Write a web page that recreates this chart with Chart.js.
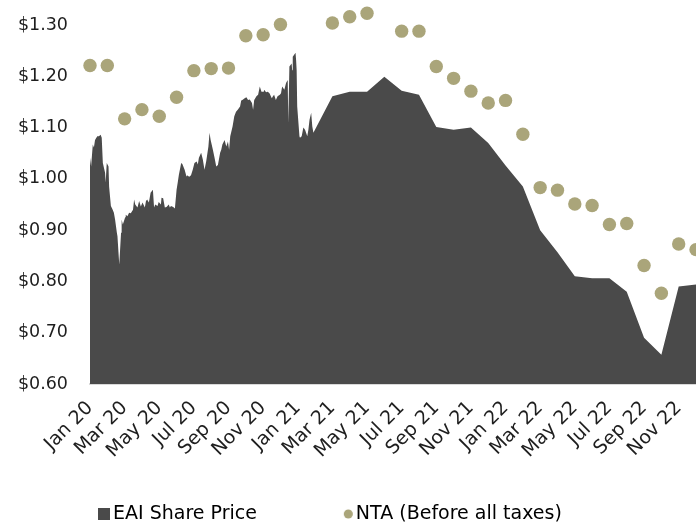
<!DOCTYPE html>
<html>
<head>
<meta charset="utf-8">
<script src="https://cdn.jsdelivr.net/npm/chart.js@4.4.1/dist/chart.umd.min.js"></script>
<style>
    html, body { margin: 0; padding: 0; background: #fff; }
    #wrap { width: 696px; height: 523px; }
</style>
</head>
<body>
<div id="wrap"><canvas id="chart"></canvas></div>
<script>
// x-axis tick labels, one every two months from Jan 2020
const tickLabels = ['Jan 20', 'Mar 20', 'May 20', 'Jul 20', 'Sep 20', 'Nov 20',
    'Jan 21', 'Mar 21', 'May 21', 'Jul 21', 'Sep 21', 'Nov 21',
    'Jan 22', 'Mar 22', 'May 22', 'Jul 22', 'Sep 22', 'Nov 22'];

// y-axis ticks
const yTicks = [0.6, 0.7, 0.8, 0.9, 1.0, 1.1, 1.2, 1.3];

// EAI share price (daily through Jan 2021, monthly afterwards)
const priceDates = [
    '2020-01-01', '2020-01-03', '2020-01-06', '2020-01-08', '2020-01-10', '2020-01-14', '2020-01-17', '2020-01-20',
    '2020-01-22', '2020-01-24', '2020-01-28', '2020-01-29', '2020-01-31', '2020-02-03', '2020-02-04', '2020-02-07',
    '2020-02-10', '2020-02-12', '2020-02-14', '2020-02-17', '2020-02-18', '2020-02-21', '2020-02-24', '2020-02-25',
    '2020-02-27', '2020-03-02', '2020-03-03', '2020-03-06', '2020-03-09', '2020-03-12', '2020-03-16', '2020-03-18',
    '2020-03-20', '2020-03-24', '2020-03-27', '2020-03-30', '2020-04-02', '2020-04-06', '2020-04-08', '2020-04-10',
    '2020-04-13', '2020-04-16', '2020-04-20', '2020-04-22', '2020-04-24', '2020-04-28', '2020-04-30', '2020-05-04',
    '2020-05-05', '2020-05-08', '2020-05-11', '2020-05-14', '2020-05-18', '2020-05-20', '2020-05-22', '2020-05-26',
    '2020-05-29', '2020-06-01', '2020-06-03', '2020-06-05', '2020-06-09', '2020-06-11', '2020-06-15', '2020-06-18',
    '2020-06-19', '2020-06-23', '2020-06-26', '2020-06-29', '2020-07-02', '2020-07-06', '2020-07-08', '2020-07-10',
    '2020-07-14', '2020-07-17', '2020-07-20', '2020-07-23', '2020-07-27', '2020-07-29', '2020-07-31', '2020-08-04',
    '2020-08-07', '2020-08-10', '2020-08-13', '2020-08-17', '2020-08-19', '2020-08-21', '2020-08-25', '2020-08-28',
    '2020-08-31', '2020-09-02', '2020-09-04', '2020-09-08', '2020-09-11', '2020-09-14', '2020-09-17', '2020-09-21',
    '2020-09-23', '2020-09-25', '2020-09-29', '2020-10-02', '2020-10-05', '2020-10-08', '2020-10-12', '2020-10-14',
    '2020-10-16', '2020-10-20', '2020-10-23', '2020-10-26', '2020-10-29', '2020-11-02', '2020-11-03', '2020-11-06',
    '2020-11-09', '2020-11-12', '2020-11-16', '2020-11-18', '2020-11-20', '2020-11-23', '2020-11-26', '2020-11-30',
    '2020-12-02', '2020-12-04', '2020-12-08', '2020-12-11', '2020-12-14', '2020-12-15', '2020-12-17', '2020-12-21',
    '2020-12-22', '2020-12-23', '2020-12-28', '2020-12-29', '2020-12-30', '2020-12-31', '2021-01-04', '2021-01-05',
    '2021-01-08', '2021-01-11', '2021-01-14', '2021-01-18', '2021-01-20', '2021-01-22', '2021-01-25', '2021-01-27',
    '2021-01-29', '2021-03-01', '2021-04-01', '2021-05-01', '2021-06-01', '2021-07-01', '2021-08-01', '2021-09-01',
    '2021-10-01', '2021-11-01', '2021-12-01', '2022-01-01', '2022-02-01', '2022-03-01', '2022-04-01', '2022-05-01',
    '2022-06-01', '2022-07-01', '2022-08-01', '2022-09-01', '2022-10-01', '2022-11-01', '2022-12-01'
];
const priceValues = [
    1.041, 1.024, 1.067, 1.061, 1.076, 1.083, 1.083, 1.086,
    1.080, 1.031, 1.012, 0.993, 1.031, 1.024, 0.985, 0.947,
    0.940, 0.934, 0.921, 0.895, 0.888, 0.833, 0.895, 0.921,
    0.911, 0.925, 0.930, 0.927, 0.934, 0.933, 0.940, 0.960,
    0.950, 0.944, 0.957, 0.946, 0.954, 0.944, 0.957, 0.960,
    0.954, 0.973, 0.979, 0.944, 0.950, 0.947, 0.955, 0.950,
    0.963, 0.962, 0.944, 0.945, 0.950, 0.944, 0.947, 0.945,
    0.942, 0.979, 0.993, 1.008, 1.031, 1.029, 1.018, 1.005,
    1.007, 1.004, 1.007, 1.018, 1.031, 1.034, 1.028, 1.041,
    1.051, 1.038, 1.018, 1.034, 1.063, 1.090, 1.076, 1.057,
    1.041, 1.024, 1.027, 1.051, 1.057, 1.067, 1.076, 1.063,
    1.073, 1.057, 1.083, 1.102, 1.122, 1.131, 1.135, 1.141,
    1.153, 1.154, 1.157, 1.159, 1.154, 1.155, 1.148, 1.135,
    1.154, 1.161, 1.164, 1.180, 1.170, 1.170, 1.174, 1.169,
    1.170, 1.167, 1.157, 1.161, 1.164, 1.154, 1.161, 1.164,
    1.167, 1.180, 1.174, 1.187, 1.193, 1.109, 1.219, 1.225,
    1.212, 1.238, 1.246, 1.232, 1.212, 1.141, 1.083, 1.080,
    1.083, 1.100, 1.096, 1.083, 1.096, 1.115, 1.129, 1.102,
    1.090, 1.161, 1.170, 1.170, 1.199, 1.172, 1.164, 1.101,
    1.096, 1.100, 1.070, 1.026, 0.985, 0.900, 0.857, 0.810,
    0.806, 0.806, 0.780, 0.690, 0.657, 0.790, 0.794
];

// NTA before all taxes, one per month Jan 2020 .. Dec 2022 (null = not shown)
const ntaValues = [
    1.221, 1.221, 1.117, 1.135, 1.122, 1.159, 1.211, 1.215, 1.216, 1.279, 1.281, 1.301,
    null, null, 1.304, 1.316, 1.323, null, 1.288, 1.288, 1.219, 1.196, 1.171, 1.148,
    1.153, 1.087, 0.983, 0.978, 0.951, 0.948, 0.911, 0.913, 0.831, 0.777, 0.873, 0.862
];

const priceColor = '#4a4a4a';
const ntaColor = '#aaa57a';
const textColor = '#1e1e1e';
const fontFamily = '"DejaVu Sans", sans-serif';

// months since Jan 2020, fractional by day
function monthPosition(iso) {
    const [y, m, d] = iso.split('-').map(Number);
    const daysInMonth = new Date(y, m, 0).getDate();
    return (y - 2020) * 12 + (m - 1) + (d - 1) / daysInMonth;
}

// legend markers: wide transparent image with the swatch at its right end
function makeMarker(paint) {
    const c = document.createElement('canvas');
    c.width = 93;
    c.height = 14;
    paint(c.getContext('2d'));
    return c;
}

const squareMarker = makeMarker(g => {
    g.fillStyle = priceColor;
    g.fillRect(81, 1, 12, 12);
});
const dotMarker = makeMarker(g => {
    g.fillStyle = ntaColor;
    g.beginPath();
    g.arc(88.4, 7, 4.5, 0, Math.PI * 2);
    g.fill();
});

const ctx = document.getElementById('chart').getContext('2d');

new Chart(ctx, {
    type: 'line',
    data: {
        datasets: [{
            label: 'EAI Share Price',
            data: priceDates.map((d, i) => ({ x: monthPosition(d), y: priceValues[i] })),
            backgroundColor: priceColor,
            borderColor: priceColor,
            borderWidth: 0,
            fill: 'start',
            pointRadius: 0,
            tension: 0,
            order: 2
        }, {
            label: 'NTA (Before all taxes)',
            data: ntaValues.map((v, i) => ({ x: i, y: v })),
            showLine: false,
            pointRadius: 6.7,
            pointBackgroundColor: ntaColor,
            pointBorderWidth: 0,
            clip: false,
            order: 1
        }]
    },
    options: {
        responsive: true,
        maintainAspectRatio: false,
        animation: false,
        layout: {
            autoPadding: false,
            padding: { left: 14, top: 4.5, right: 0, bottom: 0 }
        },
        scales: {
            x: {
                type: 'linear',
                min: 0,
                max: 35,
                z: 1,
                afterBuildTicks: scale => {
                    scale.ticks = tickLabels.map((_, i) => ({ value: i * 2 }));
                },
                afterFit: scale => {
                    scale.height = 111;
                    scale.paddingLeft = 0;
                    scale.paddingRight = 0;
                },
                ticks: {
                    autoSkip: false,
                    minRotation: 45,
                    maxRotation: 45,
                    padding: 18,
                    color: textColor,
                    font: { family: fontFamily, size: 19 },
                    callback: value => tickLabels[Math.round(value / 2)]
                },
                grid: {
                    drawOnChartArea: false,
                    drawTicks: true,
                    tickLength: -5,
                    tickColor: '#d4d4d4',
                    tickWidth: 1
                },
                border: {
                    display: true,
                    color: '#d9d9d9',
                    width: 2
                }
            },
            y: {
                min: 0.6,
                max: 1.34,
                afterBuildTicks: scale => {
                    scale.ticks = yTicks.map(v => ({ value: v }));
                },
                afterFit: scale => {
                    scale.width = 76;
                    scale.paddingTop = 0;
                    scale.paddingBottom = 0;
                },
                ticks: {
                    padding: 22,
                    color: textColor,
                    font: { family: fontFamily, size: 17.5 },
                    callback: value => '$' + value.toFixed(2)
                },
                grid: {
                    display: false,
                    drawTicks: false
                },
                border: {
                    display: false
                }
            }
        },
        plugins: {
            legend: {
                position: 'bottom',
                align: 'start',
                maxHeight: 28,
                labels: {
                    usePointStyle: true,
                    pointStyleWidth: 80,
                    padding: 9.5,
                    color: textColor,
                    font: { family: fontFamily, size: 19 },
                    generateLabels: chart => chart.data.datasets.map((ds, i) => ({
                        text: ds.label,
                        pointStyle: i === 0 ? squareMarker : dotMarker,
                        fillStyle: i === 0 ? priceColor : ntaColor,
                        strokeStyle: 'rgba(0,0,0,0)',
                        lineWidth: 0,
                        hidden: false,
                        datasetIndex: i
                    }))
                }
            },
            tooltip: { enabled: false }
        }
    }
});
</script>
</body>
</html>
